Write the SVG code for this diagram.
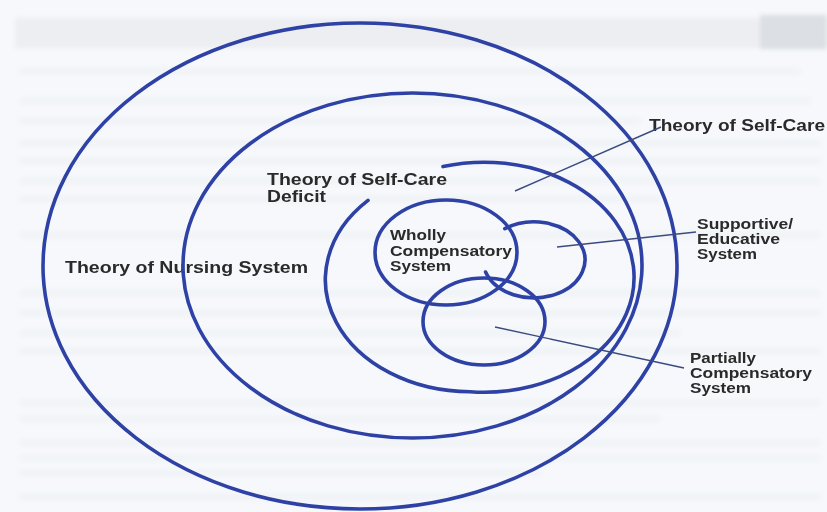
<svg xmlns="http://www.w3.org/2000/svg" width="827" height="512" viewBox="0 0 827 512">
  <defs>
    <filter id="soft" x="-5%" y="-50%" width="110%" height="200%">
      <feGaussianBlur stdDeviation="2"/>
    </filter>
    <style>
      .ring { fill: none; stroke: #2e42a6; stroke-width: 3.6; stroke-linecap: round; }
      .lead { fill: none; stroke: #3b4b80; stroke-width: 1.4; }
      .big { font-family: "Liberation Sans", Arial, sans-serif; font-weight: bold; font-size: 16.5px; fill: #2a2a2a; }
      .small { font-family: "Liberation Sans", Arial, sans-serif; font-weight: bold; font-size: 14.5px; fill: #2a2a2a; }
      .ghost { fill: #7d848e; opacity: 0.045; }
    </style>
  </defs>

  <!-- paper -->
  <rect x="0" y="0" width="827" height="512" fill="#f6f8fb"/>
  <g id="paper-texture" filter="url(#soft)">
    <rect x="15" y="18" width="745" height="30" fill="#eceef1"/>
    <rect x="760" y="15" width="67" height="34" fill="#dcdfe3"/>
    <rect class="ghost" x="20" y="68" width="780" height="6"/>
    <rect class="ghost" x="20" y="98" width="790" height="6"/>
    <rect class="ghost" x="20" y="118" width="620" height="6"/>
    <rect class="ghost" x="20" y="140" width="800" height="6"/>
    <rect class="ghost" x="20" y="158" width="800" height="6"/>
    <rect class="ghost" x="20" y="178" width="800" height="6"/>
    <rect class="ghost" x="20" y="196" width="640" height="6"/>
    <rect class="ghost" x="20" y="232" width="800" height="6"/>
    <rect class="ghost" x="20" y="290" width="800" height="6"/>
    <rect class="ghost" x="20" y="310" width="800" height="6"/>
    <rect class="ghost" x="20" y="330" width="660" height="6"/>
    <rect class="ghost" x="20" y="348" width="800" height="6"/>
    <rect class="ghost" x="20" y="400" width="800" height="6"/>
    <rect class="ghost" x="20" y="416" width="640" height="6"/>
    <rect class="ghost" x="20" y="440" width="800" height="6"/>
    <rect class="ghost" x="20" y="455" width="800" height="6"/>
    <rect class="ghost" x="20" y="470" width="520" height="6"/>
    <rect class="ghost" x="20" y="494" width="800" height="6"/>
  </g>

  <!-- Theory of Nursing System: outer ring -->
  <g id="nursing-system">
    <ellipse class="ring" cx="360" cy="266" rx="317" ry="243"/>
    <rect x="60" y="248" width="252" height="33" fill="#f6f8fb"/>
    <text class="big" x="65" y="273" textLength="243" lengthAdjust="spacingAndGlyphs">Theory of Nursing System</text>
  </g>

  <!-- Theory of Self-Care: middle ring -->
  <g id="self-care">
    <ellipse class="ring" cx="412.5" cy="265.5" rx="229.5" ry="172.5"/>
    <text class="big" x="649" y="131" textLength="176" lengthAdjust="spacingAndGlyphs">Theory of Self-Care</text>
  </g>

  <!-- Theory of Self-Care Deficit: open spiral -->
  <g id="self-care-deficit">
    <path class="ring" d="M443,166.6 A150,115 0 1 1 470,391.7 A145,112 0 0 1 368,200.4"/>
    <text class="big" x="267" y="185" textLength="180" lengthAdjust="spacingAndGlyphs">Theory of Self-Care</text>
    <text class="big" x="267" y="202" textLength="59" lengthAdjust="spacingAndGlyphs">Deficit</text>
  </g>

  <!-- Wholly Compensatory System -->
  <g id="wholly-compensatory">
    <ellipse class="ring" cx="446" cy="252.5" rx="71" ry="52.5"/>
    <text class="small" x="390" y="240" textLength="56" lengthAdjust="spacingAndGlyphs">Wholly</text>
    <text class="small" x="390" y="256" textLength="122" lengthAdjust="spacingAndGlyphs">Compensatory</text>
    <text class="small" x="390" y="271" textLength="61" lengthAdjust="spacingAndGlyphs">System</text>
  </g>

  <!-- Supportive/Educative System: ring broken inside the wholly ring -->
  <g id="supportive-educative">
    <path class="ring" d="M504.8,228.7 A51,38 0 1 1 485.6,272"/>
    <text class="small" x="697" y="229" textLength="96" lengthAdjust="spacingAndGlyphs">Supportive/</text>
    <text class="small" x="697" y="243.5" textLength="83" lengthAdjust="spacingAndGlyphs">Educative</text>
    <text class="small" x="697" y="258.5" textLength="60" lengthAdjust="spacingAndGlyphs">System</text>
  </g>

  <!-- Partially Compensatory System -->
  <g id="partially-compensatory">
    <ellipse class="ring" cx="484" cy="321.5" rx="61" ry="43.5"/>
    <text class="small" x="690" y="363" textLength="66" lengthAdjust="spacingAndGlyphs">Partially</text>
    <text class="small" x="690" y="378" textLength="122" lengthAdjust="spacingAndGlyphs">Compensatory</text>
    <text class="small" x="690" y="393" textLength="61" lengthAdjust="spacingAndGlyphs">System</text>
  </g>

  <!-- leader lines from labels into their regions -->
  <g id="connectors">
    <line class="lead" x1="515" y1="191" x2="661" y2="127"/>
    <line class="lead" x1="557" y1="247" x2="696" y2="232"/>
    <line class="lead" x1="495" y1="327" x2="684" y2="368"/>
  </g>
</svg>
